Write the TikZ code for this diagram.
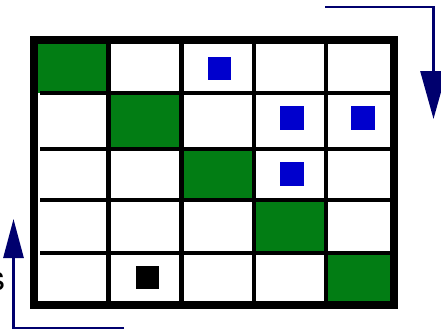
\documentclass[tikz,border=0pt]{standalone}
\usepackage{fontspec}
\setsansfont{TeX Gyre Heros}
\usetikzlibrary{arrows.meta}
\definecolor{cellgreen}{RGB}{2,125,20}
\definecolor{markblue}{RGB}{0,0,205}
\definecolor{arrownavy}{RGB}{0,0,110}

\begin{document}
\begin{tikzpicture}[x=1pt,y=-1pt,
    gridline/.style={line width=4.5pt, black},
    frameline/.style={line width=7.5pt, black},
    cellmark/.style={draw=none, inner sep=0pt, minimum size=23.5pt},
    bluemark/.style={cellmark, fill=markblue},
    blackmark/.style={cellmark, fill=black},
    flowarrow/.style={line width=2.8pt, arrownavy}]
    \useasboundingbox (0,0) rectangle (441,330);
    % diagonal cells
    \foreach \xa/\xb/\ya/\yb in {38/108.5/43/93, 108.5/181.5/93/149, 181.5/254/149/200, 254/326/200/253, 326/390/253/301}{
        \fill[cellgreen] (\xa,\ya) rectangle (\xb,\yb);
    }
    % grid
    \foreach \x in {108.5,181.5,254,326}{\draw[gridline] (\x,44) -- (\x,301);}
    \foreach \y in {93,149,200,253}{\draw[gridline] (40,\y) -- (391,\y);}
    \draw[frameline] (34,40) rectangle (394,305);
    % marks
    \node[bluemark] (b1) at (219.5,68.5) {};
    \node[bluemark] (b2) at (292,118) {};
    \node[bluemark] (b3) at (363,118) {};
    \node[bluemark] (b4) at (292,174) {};
    \node[blackmark] (k1) at (147.5,277.5) {};
    % arrows
    \coordinate (tr0) at (325,7);
    \coordinate (tr1) at (433.5,7);
    \coordinate (tr2) at (433.5,119);
    \draw[flowarrow, -{Triangle[length=48pt,width=26pt]}] (tr0) -- (tr1) -- (tr2);
    \coordinate (bl0) at (124,328);
    \coordinate (bl1) at (13.5,328);
    \coordinate (bl2) at (13.5,219);
    \draw[flowarrow, -{Triangle[length=39pt,width=20pt]}] (bl0) -- (bl1) -- (bl2);
    \node[anchor=base east, inner sep=0pt, font=\sffamily\fontsize{34}{34}\selectfont] (lbl) at (5.5,290) {s};
\end{tikzpicture}
\end{document}
